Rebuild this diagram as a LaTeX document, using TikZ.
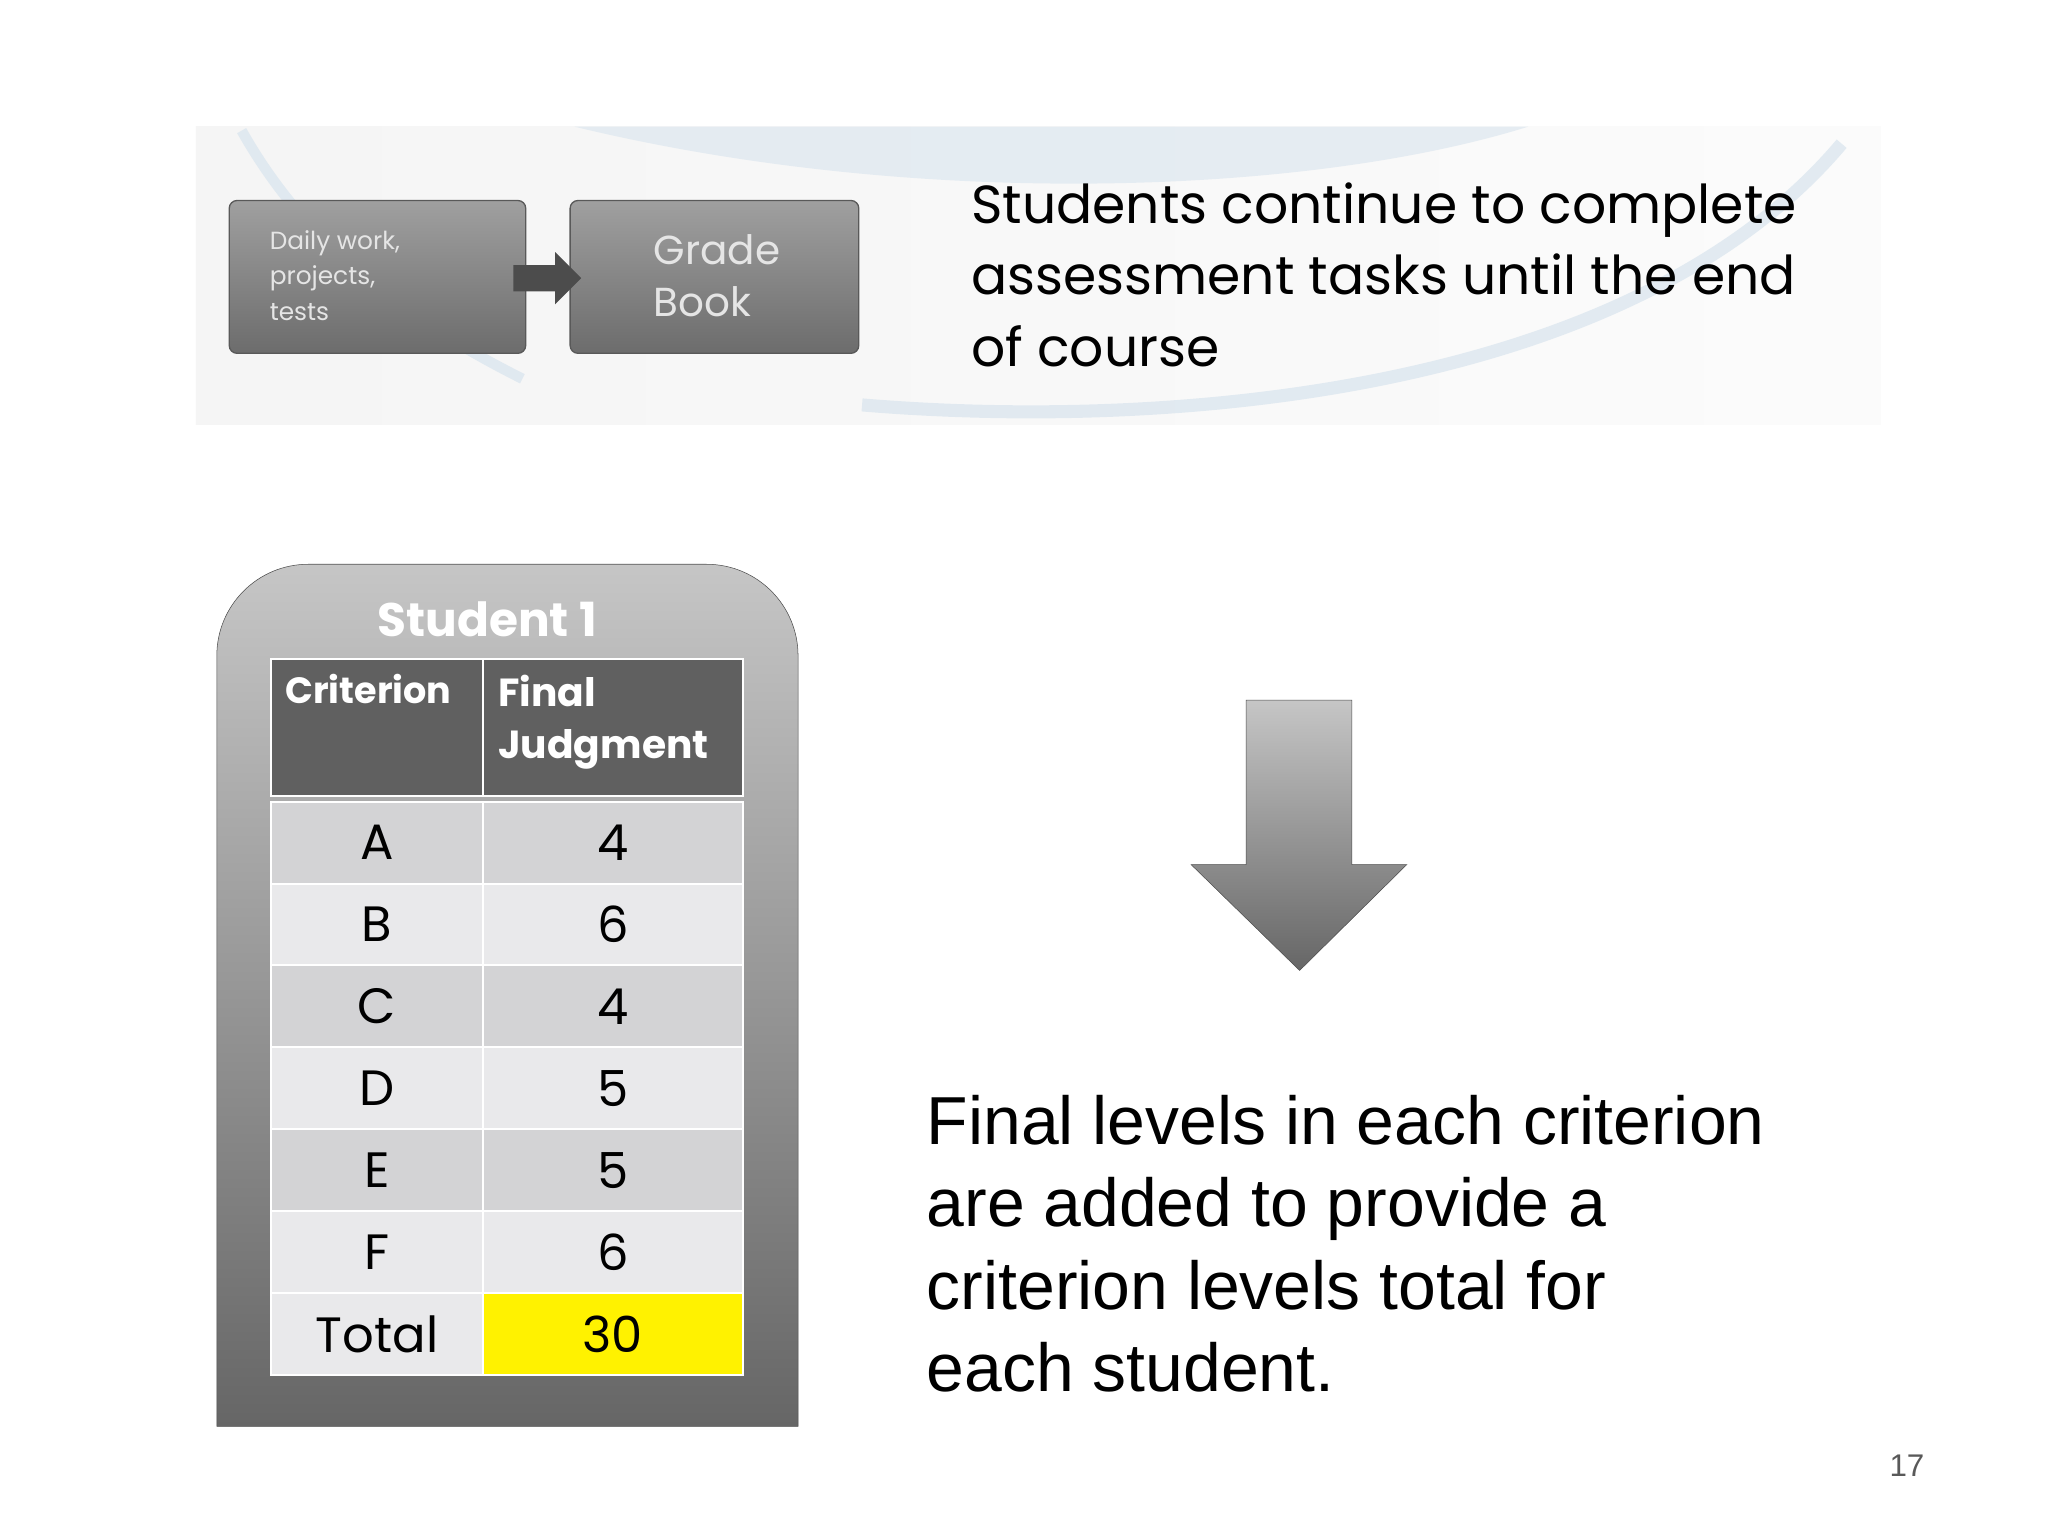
\documentclass[tikz,border=0pt]{standalone}
\usepackage{fontspec}
\setmainfont{Liberation Sans}
\newfontfamily\gothic{Poppins}
\usetikzlibrary{shadings}
\definecolor{rowa}{HTML}{D3D3D5}
\definecolor{rowb}{HTML}{E9E9EB}
\definecolor{swoosh}{HTML}{D8E4EE}
\tikzset{
 flowbox/.style={draw=gray!70!black,rounded corners=6pt,top color=gray!75,bottom color=gray!85!black,line width=1pt},
 cell/.style={draw=white,line width=1.5pt,minimum height=62.7pt,anchor=north west,inner sep=0pt},
 celltxt/.style={font=\gothic\fontsize{38}{38}\selectfont},
 hdr/.style={draw=white,line width=1.5pt,fill=gray!75!black,minimum height=105pt,anchor=north west}
}
\begin{document}
\begin{tikzpicture}[x=1pt,y=-1pt]
\useasboundingbox (0,0) rectangle (1568,1176);
\fill[white] (0,0) rectangle (1568,1176);
% banner
\shade[left color=gray!8,right color=gray!3] (150,97) rectangle (1440,325);
\draw[swoosh,line width=8pt,opacity=0.7] (185,100) .. controls (230,180) and (300,240) .. (400,290);
\draw[swoosh,line width=10pt,opacity=0.7] (660,310) .. controls (900,330) and (1250,300) .. (1410,110);
\fill[swoosh,opacity=0.6] (440,97) .. controls (700,160) and (1000,150) .. (1170,97) -- cycle;
% flow boxes
\node[flowbox,minimum width=227pt,minimum height=117pt,anchor=north west,inner sep=0pt] (daily) at (175,153) {};
\node[anchor=west,text=gray!20,align=left,font=\gothic\fontsize{19}{27}\selectfont] (dailyt) at (203,211) {Daily work,\\projects,\\tests};
\node[flowbox,minimum width=221pt,minimum height=117pt,anchor=north west,inner sep=0pt] (grade) at (436,153) {};
\node[text=gray!20,align=left,font=\gothic\fontsize{31}{40}\selectfont] (gradet) at (549,211) {Grade\\Book};
\fill[gray!60!black] (393,203) -- (425,203) -- (425,193) -- (445,213) -- (425,233) -- (425,223) -- (393,223) -- cycle;
\node[anchor=north west,align=left,font=\gothic\fontsize{41}{55}\selectfont] (txt1) at (740,136) {Students continue to complete\\assessment tasks until the end\\of course};
% student card
\shade[top color=gray!45,bottom color=gray!80!black,draw=gray!60!black,rounded corners=70pt] (166,1092) -- (166,432) -- (611,432) [sharp corners] -- (611,1092) -- cycle;
\node[text=white,font=\gothic\bfseries\fontsize{36}{36}\selectfont] (title) at (373,474) {Student 1};
\node[hdr,minimum width=162pt] (h1) at (207,504) {};
\node[hdr,minimum width=199pt] (h2) at (369,504) {};
\node[anchor=north west,text=white,font=\gothic\bfseries\fontsize{28}{28}\selectfont] at (215,513) {Criterion};
\node[anchor=north west,text=white,align=left,font=\gothic\bfseries\fontsize{30}{40}\selectfont] at (378,513) {Final\\Judgment};
\foreach \i/\c/\v in {0/A/4,1/B/6,2/C/4,3/D/5,4/E/5,5/F/6}{
  \pgfmathsetmacro{\yy}{613+62.7*\i}
  \ifodd\i \def\rc{rowb}\else\def\rc{rowa}\fi
  \node[cell,fill=\rc,minimum width=162pt] (c\i) at (207,\yy) {};
  \node[cell,fill=\rc,minimum width=199pt] (v\i) at (369,\yy) {};
  \node[celltxt] at (c\i.center) {\c};
  \node[celltxt] at (v\i.center) {\v};
}
\node[cell,fill=rowb,minimum width=162pt] (ct) at (207,989.2) {};
\node[cell,fill=yellow,minimum width=199pt] (vt) at (369,989.2) {};
\node[celltxt] at (ct.center) {Total};
\node[celltxt] at (vt.center) {30};
% down arrow
\shade[top color=gray!45,bottom color=gray!80!black,draw=gray!60!black] (954,536) -- (1035,536) -- (1035,662) -- (1077,662) -- (995,743) -- (912,662) -- (954,662) -- cycle;
\node[anchor=north west,align=left,font=\fontsize{52}{63}\selectfont] (txt2) at (706,835) {Final levels in each criterion\\are added to provide a\\criterion levels total for\\each student.};
\node[font=\fontsize{24}{24}\selectfont,text=gray!70!black] (pg) at (1460,1122) {17};
\end{tikzpicture}
\end{document}
